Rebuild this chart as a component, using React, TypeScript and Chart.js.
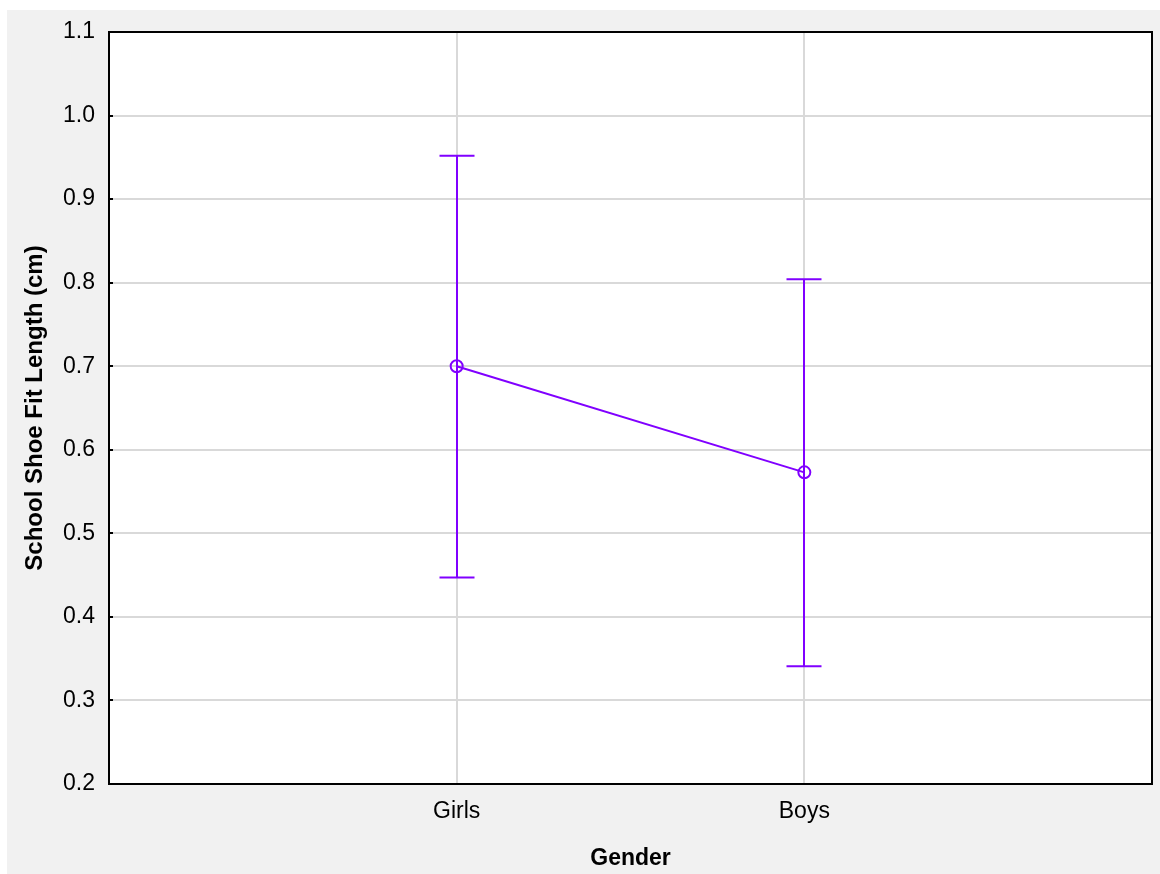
import React, { useEffect, useRef } from "react";
import { Chart, registerables } from "chart.js";

Chart.register(...registerables);

const categories = ["Girls", "Boys"];
const categoryPositions = [1, 2];
const means = [0.7, 0.573];
const upperBounds = [0.952, 0.804];
const lowerBounds = [0.447, 0.341];
const yTickValues = [0.2, 0.3, 0.4, 0.5, 0.6, 0.7, 0.8, 0.9, 1.0, 1.1];

const PURPLE = "#8000ff";
const FONT = "'Liberation Sans', Arial, sans-serif";

const plotFrame = {
  id: "plotFrame",
  beforeDraw(chart: any) {
    const { ctx, chartArea: a } = chart;
    ctx.save();
    ctx.fillStyle = "#ffffff";
    ctx.fillRect(a.left, a.top, a.right - a.left, a.bottom - a.top);
    ctx.restore();
  },
  afterDraw(chart: any) {
    const { ctx, chartArea: a } = chart;
    const y = chart.scales.y;
    ctx.save();
    ctx.strokeStyle = "#000000";
    ctx.lineWidth = 2;
    ctx.beginPath();
    y.ticks.forEach((t: any) => {
      const py = Math.round(y.getPixelForValue(t.value));
      ctx.moveTo(a.left, py);
      ctx.lineTo(a.left + 4, py);
    });
    ctx.stroke();
    ctx.strokeRect(a.left, a.top, a.right - a.left, a.bottom - a.top);
    ctx.restore();
  },
};

const errorBars = {
  id: "errorBars",
  beforeDatasetsDraw(chart: any) {
    const { ctx } = chart;
    const xs = chart.scales.x;
    const ys = chart.scales.y;
    ctx.save();
    ctx.strokeStyle = PURPLE;
    ctx.lineWidth = 2;
    categoryPositions.forEach((pos, i) => {
      const px = Math.round(xs.getPixelForValue(pos));
      const top = ys.getPixelForValue(upperBounds[i]);
      const bot = ys.getPixelForValue(lowerBounds[i]);
      const half = 17.5;
      ctx.beginPath();
      ctx.moveTo(px, top);
      ctx.lineTo(px, bot);
      ctx.moveTo(px - half, top);
      ctx.lineTo(px + half, top);
      ctx.moveTo(px - half, bot);
      ctx.lineTo(px + half, bot);
      ctx.stroke();
    });
    ctx.restore();
  },
};

export default function App() {
  const ref = useRef<HTMLCanvasElement | null>(null);

  useEffect(() => {
    if (!ref.current) return;
    const chart = new Chart(ref.current, {
      type: "line",
      data: {
        datasets: [
          {
            data: categoryPositions.map((x, i) => ({ x, y: means[i] })),
            borderColor: PURPLE,
            borderWidth: 2,
            pointRadius: 6,
            pointBorderWidth: 2,
            pointBorderColor: PURPLE,
            pointBackgroundColor: "rgba(0,0,0,0)",
            pointStyle: "circle",
            tension: 0,
            fill: false,
          },
        ],
      },
      options: {
        animation: false,
        responsive: false,
        devicePixelRatio: 1,
        layout: { padding: { top: 22, right: 8, left: 0, bottom: 0 } },
        plugins: { legend: { display: false }, tooltip: { enabled: false } },
        scales: {
          x: {
            type: "linear",
            min: 0,
            max: 3,
            afterBuildTicks: (s: any) => {
              s.ticks = categoryPositions.map((v) => ({ value: v }));
            },
            afterFit: (s: any) => {
              s.height = 90;
              s.paddingLeft = 0;
              s.paddingRight = 0;
            },
            ticks: {
              autoSkip: false,
              maxRotation: 0,
              padding: 14,
              color: "#000000",
              font: { family: FONT, size: 23 },
              callback: (v: any) => {
                const idx = categoryPositions.indexOf(Number(v));
                return idx >= 0 ? categories[idx] : "";
              },
            },
            grid: { color: "#d9d9d9", lineWidth: 2, drawTicks: false },
            border: { display: false },
            title: {
              display: true,
              text: "Gender",
              color: "#000000",
              font: { family: FONT, size: 23, weight: "bold" },
              padding: { top: 0, bottom: 2 },
            },
          },
          y: {
            type: "linear",
            min: 0.2,
            max: 1.1,
            afterBuildTicks: (s: any) => {
              s.ticks = yTickValues.map((v) => ({ value: v }));
            },
            afterFit: (s: any) => {
              s.width = 102;
              s.paddingTop = 0;
              s.paddingBottom = 0;
            },
            ticks: {
              padding: 14,
              color: "#000000",
              font: { family: FONT, size: 23 },
              callback: (v: any) => Number(v).toFixed(1),
            },
            grid: { color: "#d9d9d9", lineWidth: 2, drawTicks: false },
            border: { display: false },
            title: {
              display: true,
              text: "School Shoe Fit Length (cm)",
              color: "#000000",
              font: { family: FONT, size: 24, weight: "bold" },
              padding: { top: 14, bottom: 0 },
            },
          },
        },
      },
      plugins: [plotFrame, errorBars],
    } as any);
    return () => chart.destroy();
  }, []);

  return (
    <div
      style={{
        position: "absolute",
        left: 7,
        top: 10,
        width: 1153,
        height: 864,
        background: "#f1f1f1",
      }}
    >
      <canvas ref={ref} width={1153} height={864} style={{ display: "block" }} />
    </div>
  );
}
